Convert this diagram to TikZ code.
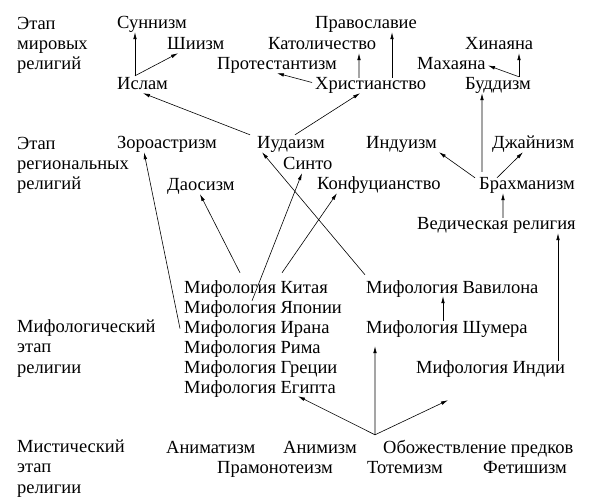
\documentclass[tikz,border=0pt]{standalone}
\usepackage{fontspec}
\setmainfont{Liberation Serif}
\usetikzlibrary{calc,arrows.meta}
\tikzset {>={Latex[length=7bp,width=3.6bp]}}
\tikzset{
  term/.style={anchor=base west, inner sep=0pt, text height=12bp, text depth=3bp,
    font=\fontsize{18.5bp}{20.3bp}\selectfont},
  stage/.style={anchor=base west, inner sep=0pt, align=left,
    font=\fontsize{18.5bp}{20.3bp}\selectfont},
  link/.style={->, line width=0.6bp}
}

\begin{document}
\begin{tikzpicture}[x=1bp,y=-1bp]
\useasboundingbox (0,0) rectangle (594,501);

% Stage labels on the left (base is the last line)
\node[stage] (st-world) at (17,70) {Этап\\мировых\\религий};
\node[stage] (st-region) at (17,190) {Этап\\региональных\\религий};
\node[stage] (st-myth) at (17,373) {Мифологический\\этап\\религии};
\node[stage] (st-myst) at (17,493) {Мистический\\этап\\религии};

% World religions
\node[term] (sunn) at (117,29) {Суннизм};
\node[term] (shia) at (167,50) {Шиизм};
\node[term] (islam) at (117,90) {Ислам};
\node[term] (orth) at (315,29) {Православие};
\node[term] (cath) at (268,50) {Католичество};
\node[term] (prot) at (217,70) {Протестантизм};
\node[term] (christ) at (315,90) {Христианство};
\node[term] (hina) at (465,50) {Хинаяна};
\node[term] (maha) at (417,70) {Махаяна};
\node[term] (budd) at (465,90) {Буддизм};

% Regional religions
\node[term] (zoro) at (117,149) {Зороастризм};
\node[term] (jud) at (257,149) {Иудаизм};
\node[term] (shinto) at (283,170) {Синто};
\node[term] (tao) at (167,191) {Даосизм};
\node[term] (konf) at (317,190) {Конфуцианство};
\node[term] (hind) at (366,149) {Индуизм};
\node[term] (jain) at (492,149) {Джайнизм};
\node[term] (brahm) at (479,190) {Брахманизм};
\node[term] (veda) at (417,230) {Ведическая религия};

% Mythologies
\node[term] (m-china) at (184,293) {Мифология Китая};
\node[term] (m-japan) at (184,313) {Мифология Японии};
\node[term] (m-iran) at (184,333) {Мифология Ирана};
\node[term] (m-rome) at (184,353) {Мифология Рима};
\node[term] (m-greece) at (184,373) {Мифология Греции};
\node[term] (m-egypt) at (184,393) {Мифология Египта};
\node[term] (m-babylon) at (366,293) {Мифология Вавилона};
\node[term] (m-sumer) at (366,333) {Мифология Шумера};
\node[term] (m-india) at (416,373) {Мифология Индии};

% Mystical beliefs
\node[term] (animat) at (166,453) {Аниматизм};
\node[term] (anim) at (283,453) {Анимизм};
\node[term] (ances) at (383,453) {Обожествление предков};
\node[term] (pramon) at (217,473) {Прамонотеизм};
\node[term] (totem) at (367,473) {Тотемизм};
\node[term] (fetish) at (483,473) {Фетишизм};

% Islam, Christianity, Buddhism branches
\draw [link] ([xshift=18bp,yshift=2bp]islam.north west) coordinate (islam-fork)
  -- ([xshift=18bp]sunn.south west);
\draw [link] (islam-fork) -- ([xshift=11bp]shia.south west);
\draw [link] ([xshift=44bp]christ.north west) -- ([xshift=91bp]cath.south west);
\draw [link] ([xshift=77bp]christ.north west) -- ([xshift=77bp]orth.south west);
\draw [link] ([xshift=-3bp,yshift=3bp]christ.west) -- ([xshift=60bp]prot.south west);
\draw [link] ([xshift=54bp,yshift=1bp]budd.north west) coordinate (budd-fork)
  -- ([xshift=54bp]hina.south west);
\draw [link] (budd-fork) -- ([xshift=71bp]maha.west);

% Judaism
\draw [link] ([xshift=-7bp,yshift=2bp]jud.north west) -- ([xshift=26bp]islam.south west);
\draw [link] ([xshift=38bp,yshift=2bp]jud.north west) -- ([xshift=45bp]christ.south west);

% Brahmanism and Vedic religion
\draw [link] ([xshift=3bp,yshift=6bp]brahm.north west) -- ([xshift=17bp]budd.south west);
\draw [link] ([xshift=-4bp]brahm.north west) -- ([xshift=73bp]hind.south west);
\draw [link] ([xshift=18bp]brahm.north west) -- ([xshift=31bp]jain.south west);
\draw [link] ([xshift=86bp]veda.north west) -- ([xshift=24bp]brahm.south west);
\draw [link] ([xshift=142bp]m-india.north west) -- ([xshift=141bp]veda.south west);

% From mythologies up
\draw [link] ([xshift=77bp]m-sumer.north west) -- ([xshift=77bp]m-babylon.south west);
\draw [link] ([xshift=-1bp,yshift=6bp]m-babylon.north west) -- ([xshift=5bp]jud.south west);
\draw [link] ([xshift=56bp,yshift=8bp]m-china.north west) -- ([xshift=33bp]tao.south west);
\draw [link] ([xshift=98bp,yshift=8bp]m-china.north west) -- ([xshift=20bp]konf.south west);
\draw [link] ([xshift=68bp]m-japan.north west) -- ([xshift=19bp]shinto.south west);
\draw [link] ([xshift=-4bp]m-iran.west) -- ([xshift=27bp]zoro.south west);

% From mystical stage
\coordinate (myst-fork) at ([xshift=-8bp,yshift=6bp]ances.north west);
\coordinate (myth-mid) at ([xshift=9bp,yshift=-50bp]m-babylon.south west);
\coordinate (myth-right) at ([xshift=32bp,yshift=-24bp]m-india.south west);
\draw [link] (myst-fork) -- ([xshift=114bp]m-egypt.south west);
\draw [link] (myst-fork) -- (myth-mid);
\draw [link] (myst-fork) -- (myth-right);

\end{tikzpicture}
\end{document}
